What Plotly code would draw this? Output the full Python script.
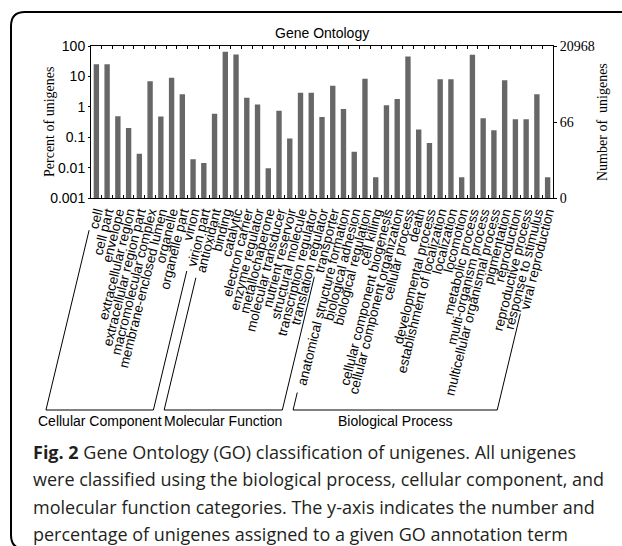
import math
import plotly.graph_objects as go

# ---------------- data ----------------
cc_terms = ["cell", "cell part", "envelope", "extracellular region",
            "extracellular region part", "macromolecular complex",
            "membrane-enclosed lumen", "organelle", "organelle part",
            "virion", "virion part"]
cc_percent = [25, 25, 0.49, 0.20, 0.0286, 6.9, 0.48, 9.1, 2.6, 0.019, 0.0143]

mf_terms = ["antioxidant", "binding", "catalytic", "electron carrier",
            "enzyme regulator", "metallochaperone", "molecular transducer",
            "nutrient reservoir", "structural molecule",
            "transcription regulator", "translation regulator", "transporter"]
mf_percent = [0.59, 65, 53, 2.0, 1.18, 0.0095, 0.74, 0.091, 2.9, 2.9, 0.46, 4.9]

bp_terms = ["anatomical structure formation", "biological adhesion",
            "biological regulation", "cell killing",
            "cellular component biogenesis", "cellular component organization",
            "cellular process", "death", "developmental process",
            "establishment of localization", "localization", "locomotion",
            "metabolic process", "multi-organism process",
            "multicellular organismal process", "pigmentation", "reproduction",
            "reproductive process", "response to stimulus", "viral reproduction"]
bp_percent = [0.85, 0.0334, 8.3, 0.00477, 1.12, 1.8, 45, 0.18, 0.064, 8.0, 8.0,
              0.00477, 52, 0.42, 0.17, 7.5, 0.39, 0.39, 2.6, 0.00477]

group_names = ["Cellular Component", "Molecular Function", "Biological Process"]
group_terms = [cc_terms, mf_terms, bp_terms]

left_tick_values = [0.001, 0.01, 0.1, 1, 10, 100]
left_tick_labels = ["0.001", "0.01", "0.1", "1", "10", "100"]
total_unigenes = 20968
right_tick_counts = [20968, 66, 0]

categories = cc_terms + mf_terms + bp_terms
percent = cc_percent + mf_percent + bp_percent

# ---------------- layout geometry (pixels) ----------------
W, H = 622, 546
L, R, T, B = 91, 69, 46, 348
PW, PH = W - L - R, H - T - B
N = len(categories)

def px(x):
    return (x - L) / PW

def py(y):
    return 1 - (y - T) / PH

def cx(i):
    return L + (i + 0.5) * PW / N

SANS = "Liberation Sans, Arial, sans-serif"
SERIF = "Liberation Serif, Times New Roman, serif"
BAR = "#676767"

fig = go.Figure()
fig.add_trace(go.Bar(x=categories, y=percent, marker_color=BAR,
                     marker_line_width=0, width=0.5, showlegend=False))
right_pos = [c / total_unigenes * 100 if c > 0 else 0.001 for c in right_tick_counts]
fig.add_trace(go.Scatter(x=[categories[0]], y=[1], yaxis="y2", mode="markers",
                         marker=dict(opacity=0), showlegend=False, hoverinfo="skip"))

fig.update_layout(
    width=W, height=H,
    margin=dict(l=L, r=R, t=T, b=B, pad=0),
    paper_bgcolor="white", plot_bgcolor="white",
    bargap=0.5,
    xaxis=dict(type="category", range=[-0.5, N - 0.5],
               tickmode="linear", tick0=0, dtick=1,
               showline=True, linecolor="black", linewidth=1, mirror="ticks",
               ticks="inside", tickson="boundaries", ticklen=3,
               tickcolor="black", tickwidth=1, tickangle=-76,
               tickfont=dict(family=SANS, size=13.5, color="black"),
               showgrid=False, zeroline=False),
    yaxis=dict(type="log", range=[-3, 2], showline=True, linecolor="black",
               linewidth=1, ticks="outside", ticklen=2, tickcolor="black",
               tickvals=left_tick_values, ticktext=left_tick_labels,
               tickfont=dict(family=SANS, size=14, color="black"),
               showgrid=False, zeroline=False),
    yaxis2=dict(type="log", range=[-3, 2], overlaying="y", side="right",
                showline=True, linecolor="black", linewidth=1,
                ticks="outside", ticklen=3, tickcolor="black",
                tickvals=right_pos, ticktext=[str(c) for c in right_tick_counts],
                tickfont=dict(family=SERIF, size=14, color="black"),
                showgrid=False, zeroline=False),
)

ann = []
ann.append(dict(text="Gene Ontology", x=px(322), y=py(33), xref="paper", yref="paper",
                showarrow=False, font=dict(family=SANS, size=14, color="black"),
                xanchor="center", yanchor="middle"))
ann.append(dict(text="Percent of unigenes", x=px(49), y=py(122), xref="paper",
                yref="paper", showarrow=False, textangle=-90,
                font=dict(family=SERIF, size=14, color="black"),
                xanchor="center", yanchor="middle"))
ann.append(dict(text="Number of  unigenes", x=px(602), y=py(122), xref="paper",
                yref="paper", showarrow=False, textangle=-90,
                font=dict(family=SERIF, size=14, color="black"),
                xanchor="center", yanchor="middle"))

# group brackets
theta = math.radians(76.5)
y0, ybot = 200, 410
start_dist = [(31, 73), (80, 79), (198, 117)]
shapes = []
idx = 0
for g, terms in enumerate(group_terms):
    a, b = idx, idx + len(terms) - 1
    idx += len(terms)
    da, db = start_dist[g]
    sl = (cx(a) - da * math.cos(theta), y0 + da * math.sin(theta))
    sr = (cx(b) - db * math.cos(theta), y0 + db * math.sin(theta))
    off = (ybot - y0) / math.tan(theta)
    bl = (cx(a) - off, ybot)
    br = (cx(b) - off, ybot)
    path = "M{},{} L{},{} L{},{} L{},{}".format(
        px(sl[0]), py(sl[1]), px(bl[0]), py(bl[1]),
        px(br[0]), py(br[1]), px(sr[0]), py(sr[1]))
    shapes.append(dict(type="path", path=path, xref="paper", yref="paper",
                       line=dict(color="black", width=1)))
    ann.append(dict(text=group_names[g], x=px((bl[0] + br[0]) / 2), y=py(421),
                    xref="paper", yref="paper", showarrow=False,
                    font=dict(family=SANS, size=14, color="black"),
                    xanchor="center", yanchor="middle"))

# outer rounded frame (right side out of view)
fl, ft, fr, fb, rad = 11, 12, 660, 549, 14
frame = ("M{},{} L{},{} Q{},{} {},{} L{},{} Q{},{} {},{} L{},{}").format(
    px(fr), py(ft), px(fl + rad), py(ft), px(fl), py(ft), px(fl), py(ft + rad),
    px(fl), py(fb - rad), px(fl), py(fb), px(fl + rad), py(fb), px(fr), py(fb))
shapes.append(dict(type="path", path=frame, xref="paper", yref="paper",
                   line=dict(color="black", width=2)))

caption = [
    "<b>Fig. 2</b> Gene Ontology (GO) classification of unigenes. All unigenes",
    "were classified using the biological process, cellular component, and",
    "molecular function categories. The y-axis indicates the number and",
    "percentage of unigenes assigned to a given GO annotation term",
]
for k, line in enumerate(caption):
    ann.append(dict(text=line, x=px(31), y=py(452 + k * 27.4), xref="paper",
                    yref="paper", showarrow=False, xanchor="left", yanchor="middle",
                    font=dict(family="Open Sans", size=18, color="#231f20")))

fig.update_layout(annotations=ann, shapes=shapes)
fig.write_html("out.html", config={"displayModeBar": False},
               post_script="document.body.style.margin='0';")
